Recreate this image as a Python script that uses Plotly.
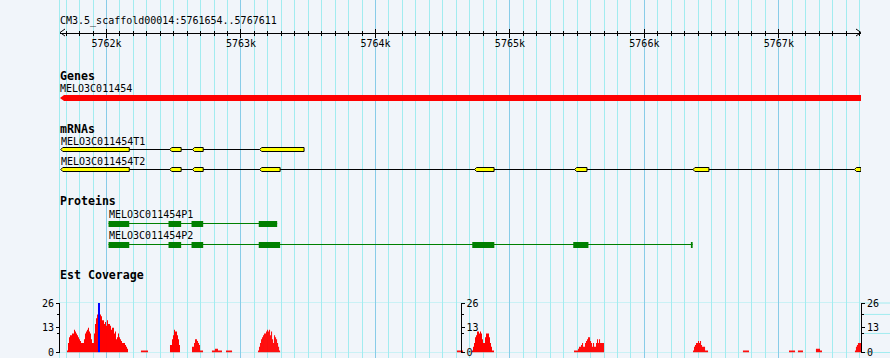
import plotly.graph_objects as go

# ---------------- data ----------------
chrom = "CM3.5_scaffold00014"
region_start = 5761654
region_end = 5767611

ruler_ticks = [5762000, 5763000, 5764000, 5765000, 5766000, 5767000]
ruler_labels = ["5762k", "5763k", "5764k", "5765k", "5766k", "5767k"]

track_titles = ["Genes", "mRNAs", "Proteins", "Est Coverage"]

gene_name = "MELO3C011454"
gene_start = 5761654
gene_end = 5767611

t1_name = "MELO3C011454T1"
t1_exons = [(5761660, 5762169), (5762470, 5762555), (5762639, 5762719), (5763139, 5763469)]
t2_name = "MELO3C011454T2"
t2_exons = [(5761660, 5762169), (5762470, 5762555), (5762639, 5762719), (5763139, 5763291),
            (5764737, 5764882), (5765481, 5765573), (5766361, 5766480), (5767562, 5767611)]

p1_name = "MELO3C011454P1"
p1_cds = [(5762015, 5762169), (5762461, 5762555), (5762632, 5762719), (5763132, 5763269)]
p2_name = "MELO3C011454P2"
p2_cds = [(5762015, 5762169), (5762461, 5762555), (5762632, 5762719), (5763132, 5763291),
          (5764720, 5764884), (5765471, 5765584), (5766346, 5766359)]

cov_max = 26
cov_ticks = [0, 13, 26]
cov_tick_labels = ["0", "13", "26"]
cov_minor_ticks = [10, 20]
cov_grid = [0, 10, 20, 26]
cov_bin_bp = 7.437
cov_starts = [5761706, 5762256, 5762472, 5762636, 5762784, 5762889, 5763127, 5764606,
              5764718, 5765477, 5766362, 5766733, 5767076, 5767142, 5767276, 5767566]
cov_values = [
    [1, 5, 8, 9, 9, 10, 10, 12, 11, 10, 9, 8, 7, 6, 5, 5, 5, 7, 10, 11, 12, 13, 11, 10, 7, 5, 5,
     10, 15, 18, 20, 26, 26, 20, 19, 17, 17, 15, 16, 14, 17, 15, 15, 14, 12, 13, 13, 10, 11, 7,
     8, 10, 8, 7, 6, 5, 5, 5, 4, 3, 2],
    [1, 1, 1, 1, 1, 1, 1],
    [4, 4, 7, 9, 12, 11, 11, 9, 7, 4],
    [3, 3, 5, 7, 7, 6, 5, 4, 1, 1, 1],
    [1, 1, 1, 2, 2, 2, 1, 1, 1, 1],
    [1, 1, 1, 1, 1, 1],
    [1, 3, 5, 7, 8, 9, 10, 10, 11, 12, 11, 12, 9, 11, 7, 5, 9, 8, 7, 5, 3, 1],
    [1, 1, 1, 1, 1, 1],
    [1, 3, 5, 8, 9, 11, 11, 10, 11, 10, 7, 5, 5, 8, 10, 10, 10, 8, 5, 3, 1, 1],
    [1, 1, 1, 1, 2, 3, 3, 4, 5, 3, 3, 5, 6, 7, 8, 8, 6, 5, 3, 5, 3, 3, 5, 7, 5, 7, 5, 5, 5, 5],
    [1, 3, 4, 5, 5, 6, 5, 6, 4, 3, 3, 3, 1, 1, 1],
    [1, 1, 1, 1, 1, 1],
    [1, 1, 1, 1, 1, 1],
    [1, 1, 1, 1, 1],
    [2, 2, 2, 2, 1, 1],
    [1, 3, 4, 5, 5, 5],
]

# ---------------- layout constants (pixels) ----------------
W, H = 890, 358
ML, MR = 60, 29
PLOT_W = W - ML - MR
PX_PER_BP = PLOT_W / (region_end - region_start)

BG = "#F1F5FA"
GRID_MINOR = "#A2ECF0"
GRID_MAJOR = "#88CCE8"
FONT = "DejaVu Sans Mono"

RULER_Y = 32.5
TITLE_Y = 20.5
COV_TOP_PX, COV_ZERO_PX = 303.0, 352.5
cov_dom = [(H - COV_ZERO_PX) / H, (H - COV_TOP_PX) / H]


def bp(px):
    return px / PX_PER_BP


fig = go.Figure()
shapes = []
annotations = []


def text(x, y, s, xref="x", bold=False, size=10):
    annotations.append(dict(
        x=x, y=y, xref=xref, yref="y", text=("<b>%s</b>" % s) if bold else s,
        showarrow=False, xanchor="left", yanchor="middle",
        borderpad=0, borderwidth=0,
        font=dict(family=FONT, size=size, color="black")))


# ---------------- title + ruler ----------------
text(0, TITLE_Y, "%s:%d..%d" % (chrom, region_start, region_end), xref="paper")
shapes.append(dict(type="path", xref="x", yref="y",
                   path="M %f %f L %f %f L %f %f" % (region_start + bp(5), RULER_Y - 3.5,
                                                      region_start, RULER_Y,
                                                      region_start + bp(5), RULER_Y + 3.5),
                   line=dict(color="black", width=1)))
shapes.append(dict(type="path", xref="x", yref="y",
                   path="M %f %f L %f %f L %f %f" % (region_end - bp(5), RULER_Y - 3.5,
                                                      region_end, RULER_Y,
                                                      region_end - bp(5), RULER_Y + 3.5),
                   line=dict(color="black", width=1)))

# ---------------- track titles ----------------
title_ys = [76.3, 128.7, 201.3, 275.3]
for t, y in zip(track_titles, title_ys):
    text(0, y, t, xref="paper", bold=True, size=11.6)

# ---------------- gene ----------------
g_top, g_bot = 95, 101
gm = (g_top + g_bot) / 2
text(gene_start, 88, gene_name)
shapes.append(dict(type="path", xref="x", yref="y", layer="above",
                   path="M %f %f L %f %f L %f %f L %f %f L %f %f Z" % (
                       gene_start, gm, gene_start + bp(4), g_top, gene_end, g_top,
                       gene_end, g_bot, gene_start + bp(4), g_bot),
                   fillcolor="#FF0000", line=dict(width=0)))


# ---------------- mRNAs ----------------
def transcript(exons, label, label_y, top, bot):
    mid = (top + bot) / 2
    text(exons[0][0], label_y, label)
    shapes.append(dict(type="line", xref="x", yref="y", x0=exons[0][1], x1=exons[-1][0],
                       y0=mid, y1=mid, line=dict(color="black", width=1)))
    for s, e in exons:
        tip = min(bp(2), (e - s) / 2)
        shapes.append(dict(type="path", xref="x", yref="y",
                           path="M %f %f L %f %f L %f %f L %f %f L %f %f Z" % (
                               s, mid, s + tip, top, e, top, e, bot, s + tip, bot),
                           fillcolor="#FFFF00", line=dict(color="black", width=1)))


transcript(t1_exons, t1_name, 141, 147.5, 151.5)
transcript(t2_exons, t2_name, 161, 167.5, 171.5)


# ---------------- proteins ----------------
def protein(cds, label, label_y, top, bot, line_y):
    text(cds[0][0], label_y, label)
    shapes.append(dict(type="line", xref="x", yref="y", x0=cds[0][0], x1=cds[-1][1],
                       y0=line_y, y1=line_y, line=dict(color="#008000", width=1)))
    for s, e in cds:
        shapes.append(dict(type="rect", xref="x", yref="y", x0=s, x1=e, y0=top, y1=bot,
                           fillcolor="#008000", line=dict(width=0)))


protein(p1_cds, p1_name, 214.3, 221, 227, 223.5)
protein(p2_cds, p2_name, 235, 242, 248, 244.5)

# ---------------- coverage ----------------
cov_x, cov_y, cov_c = [], [], []
for st, vals in zip(cov_starts, cov_values):
    for i, v in enumerate(vals):
        cov_x.append(st + i * cov_bin_bp)
        cov_y.append(min(v, cov_max))
        cov_c.append("#0000FF" if v >= cov_max else "#FF0000")

for v in cov_grid:
    yf = cov_dom[0] + v / cov_max * (cov_dom[1] - cov_dom[0])
    shapes.append(dict(type="line", xref="paper", yref="paper", x0=0, x1=(W - ML) / PLOT_W,
                       y0=yf, y1=yf, layer="below", line=dict(color=GRID_MINOR, width=1)))

fig.add_trace(go.Bar(x=cov_x, y=cov_y, width=[cov_bin_bp] * len(cov_x), offset=0,
                     marker=dict(color=cov_c, line=dict(width=0)),
                     xaxis="x", yaxis="y2", hoverinfo="skip", showlegend=False))

# invisible helper traces so every axis is created
for ax_x, ax_y in [("x", "y"), ("x2", "y"), ("x", "y3"), ("x", "y4")]:
    fig.add_trace(go.Scatter(x=[region_start, region_end], y=[0, cov_max] if ax_y != "y" else [0, H],
                             mode="none", xaxis=ax_x, yaxis=ax_y, showlegend=False,
                             hoverinfo="skip"))

ruler_pos = (H - RULER_Y) / H
tickfont = dict(family=FONT, size=10, color="black")

cov_axis_common = dict(
    range=[0, cov_max], tickmode="array", tickvals=cov_ticks, ticktext=cov_tick_labels,
    ticks="outside", ticklen=3, tickcolor="black", tickwidth=1, tickfont=tickfont,
    showline=True, linecolor="black", linewidth=1, showgrid=False, zeroline=False,
    fixedrange=True, automargin=False,
    minor=dict(tickmode="array", tickvals=cov_minor_ticks, ticks="outside", ticklen=2,
               tickcolor="black", showgrid=False),
)

fig.update_layout(
    width=W, height=H,
    margin=dict(l=ML, r=MR, t=0, b=0, pad=0, autoexpand=False),
    paper_bgcolor=BG, plot_bgcolor=BG,
    showlegend=False, hovermode=False,
    shapes=shapes, annotations=annotations,
    xaxis=dict(domain=[0, 1], range=[region_start, region_end], anchor="free",
               position=ruler_pos, side="bottom", showline=True, linecolor="black",
               linewidth=1, ticks="outside", ticklen=4, tickcolor="black", tickwidth=1,
               tickmode="array", tickvals=ruler_ticks, ticktext=ruler_labels,
               tickfont=tickfont, showgrid=True, gridcolor=GRID_MAJOR, gridwidth=1,
               zeroline=False, fixedrange=True, automargin=False,
               minor=dict(tickmode="linear", tick0=0, dtick=100, ticks="outside",
                          ticklen=2, tickcolor="black", showgrid=True,
                          gridcolor=GRID_MINOR, gridwidth=1)),
    xaxis2=dict(overlaying="x", range=[region_start, region_end], anchor="free",
                position=ruler_pos, side="top", showline=False, ticks="outside",
                ticklen=4, tickcolor="black", tickwidth=1, tickmode="array",
                tickvals=ruler_ticks, showticklabels=False, showgrid=False,
                zeroline=False, fixedrange=True, automargin=False,
                minor=dict(tickmode="linear", tick0=0, dtick=100, ticks="outside",
                           ticklen=2, tickcolor="black", showgrid=False)),
    yaxis=dict(domain=[0, 1], range=[H, 0], showline=True, linecolor=GRID_MINOR,
               linewidth=1, showticklabels=False, ticks="", showgrid=False,
               zeroline=False, fixedrange=True, automargin=False),
    yaxis2=dict(domain=cov_dom, anchor="x", side="left", **cov_axis_common),
    yaxis3=dict(overlaying="y2", anchor="free", position=0.5, side="right",
                **cov_axis_common),
    yaxis4=dict(overlaying="y2", anchor="free", position=1.0, side="right",
                **cov_axis_common),
)

try:
    fig.update_layout(xaxis_ticklabelstandoff=-3)
except Exception:
    pass

fig.write_html("out.html", config={"displayModeBar": False, "staticPlot": True},
               post_script="document.body.style.margin='0px';document.body.style.padding='0px';"
                           "document.body.style.background='%s';" % BG)
